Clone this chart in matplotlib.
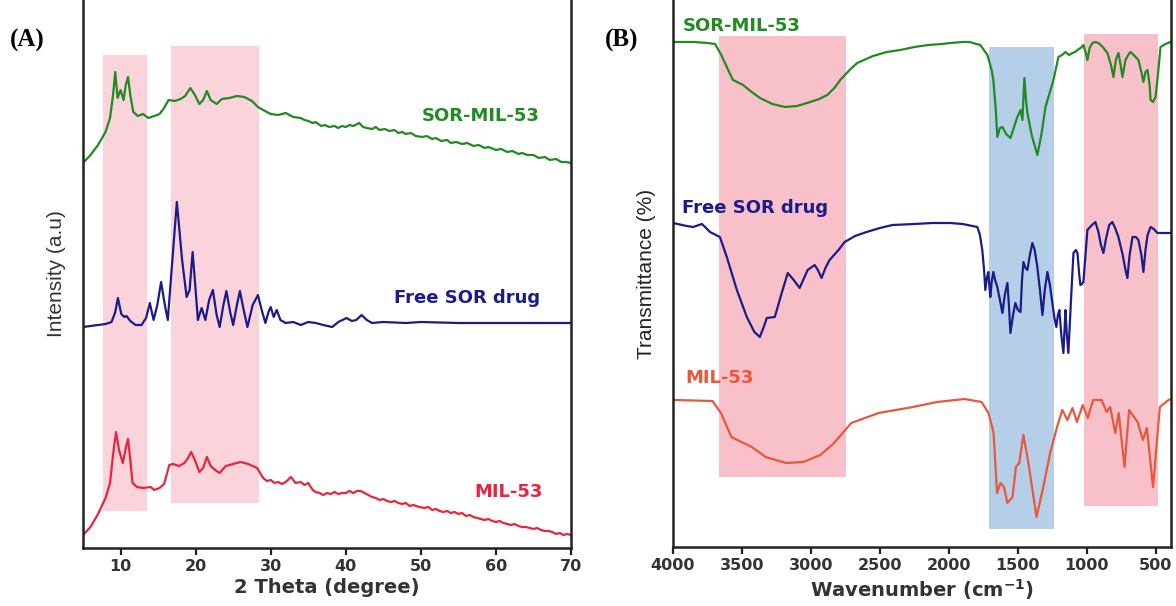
import matplotlib
matplotlib.use("Agg")
import matplotlib.pyplot as plt
from matplotlib import font_manager

# ---------------- Panel A: XRD data (2 theta, intensity a.u.) ----------------
xrd_sor_mil53_x = [5.0, 6.0, 7.0, 8.0, 8.6, 9.0, 9.3, 9.6, 10.0, 10.4, 10.7, 11.0, 11.3, 11.7, 12.3,
                   13.0, 13.7, 14.5, 15.2, 15.8, 16.4, 17.2, 18.0, 18.6, 19.3, 19.9, 20.5, 21.0, 21.5,
                   22.0, 22.8, 23.5, 24.5, 25.5, 26.5, 27.5, 28.3, 29.0,
                   30.0, 31.0, 32.0, 32.5, 33.0, 34.0, 34.5, 35.0, 35.6, 36.0, 36.7, 37.2, 37.8, 38.5,
                   39.0, 39.5, 40.0, 40.5, 41.0, 41.8, 42.3, 42.8, 43.5, 44.0, 44.5, 45.2, 45.8, 46.5,
                   47.0, 47.5, 48.0, 48.7, 49.3, 50.2, 50.8, 51.5, 52.0, 52.7, 53.5, 54.0, 54.7, 55.5,
                   56.2, 57.0, 57.7, 58.5, 59.0, 60.0, 60.7, 61.5, 62.2, 63.0, 63.5, 64.2, 65.0, 65.7,
                   66.5, 67.2, 68.0, 68.7, 69.3, 70.0]
xrd_sor_mil53_y = [385, 393, 403, 416, 430, 453, 476, 450, 458, 448, 463, 471, 453, 436, 432,
                   434, 430, 432, 434, 440, 448, 447, 449, 452, 460, 453, 444, 448, 457,
                   448, 444, 449, 450, 452, 451, 447, 441, 438,
                   434, 433, 435, 433, 431, 430, 428, 427, 425, 426, 422, 423, 421, 422,
                   420, 422, 421, 423, 422, 425, 421, 420, 419, 421, 418, 419, 417, 418,
                   415, 416, 414, 415, 412, 411, 412, 409, 410, 407, 408, 405, 406, 404,
                   405, 402, 403, 400, 401, 398, 399, 396, 397, 394, 395, 393, 393, 390,
                   391, 388, 389, 386, 386, 385]

xrd_free_sor_x = [5.0, 6.0, 7.0, 8.0, 8.8, 9.3, 9.65, 10.1, 10.5, 10.8, 11.3, 12.0, 12.8, 13.4, 13.9,
                  14.4, 14.9, 15.4, 15.9, 16.3, 16.8, 17.5, 18.2, 18.8, 19.2, 19.6, 20.0, 20.3, 20.8,
                  21.3, 21.8, 22.3, 22.8, 23.2, 23.7, 24.1, 24.6, 25.0, 25.5, 25.9, 26.4, 26.9, 27.6,
                  28.3, 28.8, 29.3, 29.7, 30.0, 30.4, 30.8, 31.3, 32.0, 33.0, 34.0, 35.0, 36.0, 37.0,
                  38.2, 39.0, 40.1, 40.8, 41.4, 42.1, 42.8, 43.5, 45.0, 48.0, 50.0, 55.0, 60.0, 65.0, 70.0]
xrd_free_sor_y = [221, 222, 223, 224, 226, 236, 250, 234, 231, 232, 227, 223, 223, 230, 245,
                  228, 243, 266, 243, 228, 278, 346, 288, 251, 258, 296, 258, 228, 240,
                  228, 248, 258, 233, 221, 243, 257, 236, 223, 243, 257, 238, 221, 243,
                  253, 238, 225, 236, 241, 231, 238, 228, 225, 226, 223, 226, 225, 223,
                  221, 226, 230, 227, 228, 233, 228, 225, 226, 225, 226, 225, 225, 225, 225]

xrd_mil53_x = [5.0, 6.0, 7.0, 7.5, 8.0, 8.6, 9.0, 9.4, 9.8, 10.3, 10.7, 11.0, 11.3, 11.6, 12.2,
               13.0, 14.0, 14.5, 15.2, 15.8, 16.5, 17.0, 17.8, 18.5, 19.0, 19.4, 19.9, 20.5, 21.0,
               21.5, 22.0, 22.6, 23.2, 24.0, 25.0, 26.0, 27.0, 27.6, 28.2,
               29.0, 29.5, 30.0, 30.5, 31.0, 31.5, 32.0, 32.7, 33.3, 34.0, 34.5, 35.0, 35.6, 36.0,
               36.5, 37.0, 37.5, 38.0, 38.5, 39.0, 39.5, 40.0, 40.5, 41.0, 41.5, 42.0, 42.5, 43.0,
               43.5, 44.0, 44.5, 45.0, 45.5, 46.0, 46.5, 47.0, 47.5, 48.0, 48.5, 49.0, 49.8, 50.5,
               51.0, 51.5, 52.0, 52.5, 53.0, 53.5, 54.0, 54.5, 55.0, 55.5, 56.0, 56.5, 57.0, 57.5,
               58.0, 58.5, 59.0, 59.5, 60.0, 60.5, 61.0, 61.5, 62.0, 62.5, 63.0, 63.5, 64.0, 64.5,
               65.0, 65.5, 66.0, 66.5, 67.0, 67.5, 68.0, 68.5, 69.0, 69.5, 70.0]
xrd_mil53_y = [13, 21, 34, 42, 50, 65, 93, 116, 98, 85, 100, 109, 88, 65, 61,
               60, 61, 58, 60, 64, 83, 84, 82, 85, 90, 96, 88, 76, 80,
               91, 82, 78, 75, 82, 84, 86, 84, 82, 80,
               70, 67, 68, 65, 66, 64, 66, 71, 65, 66, 63, 65, 58, 56,
               55, 53, 55, 54, 56, 54, 55, 55, 57, 55, 57, 57, 55, 53,
               51, 50, 48, 49, 47, 46, 47, 45, 44, 45, 42, 43, 41, 40,
               41, 38, 39, 37, 36, 37, 35, 36, 34, 35, 32, 33, 31, 30,
               29, 28, 29, 27, 26, 27, 25, 24, 23, 24, 22, 21, 21, 20,
               19, 20, 18, 17, 17, 16, 14, 15, 13, 14, 13]

xrd_xticks = [10, 20, 30, 40, 50, 60, 70]
xrd_bands = [(7.7, 13.5, 37, 493), (16.7, 28.5, 45, 502)]  # (x0, x1, y0, y1)

# ---------------- Panel B: FTIR data (wavenumber cm-1, transmittance a.u.) ----------------
ir_sor_mil53_x = [4000, 3850, 3750, 3695, 3650, 3600, 3565, 3492, 3430, 3369, 3280, 3187, 3100, 3006,
                  2940, 2882, 2830, 2788, 2720, 2665, 2550, 2450, 2353, 2250, 2150, 2050, 1990, 1900,
                  1850, 1800, 1772, 1721, 1690, 1678, 1660, 1649, 1630, 1612, 1585, 1554, 1530, 1504,
                  1481, 1467, 1453, 1441, 1431, 1400, 1359, 1330, 1300, 1270, 1242, 1206, 1180, 1155,
                  1130, 1104, 1085, 1068, 1045, 1025, 1010, 996, 980, 960, 940, 916, 885, 851, 825,
                  807, 790, 771, 755, 742, 720, 700, 684, 660, 626, 605, 590, 575, 560, 545, 538,
                  520, 502, 485, 466, 430, 393]
ir_sor_mil53_y = [505, 505, 504, 503, 492, 477, 467, 462, 455, 449, 443, 440, 441, 445,
                  448, 452, 459, 467, 477, 484, 491, 495, 497, 500, 502, 503, 504, 505,
                  505, 503, 502, 492, 477, 467, 437, 410, 419, 420, 413, 409, 419, 430,
                  437, 427, 469, 447, 434, 412, 392, 412, 440, 454, 467, 490, 492, 495,
                  492, 494, 495, 497, 499, 502, 495, 487, 499, 504, 505, 504, 500, 494, 482,
                  470, 487, 494, 482, 470, 487, 492, 495, 492, 487, 475, 465, 475, 477, 462, 447,
                  445, 450, 472, 500, 503, 505]

ir_free_sor_x = [4000, 3900, 3855, 3790, 3760, 3732, 3660, 3610, 3537, 3465, 3410, 3371, 3345, 3320,
                 3262, 3212, 3168, 3125, 3082, 3050, 3024, 2973, 2950, 2923, 2895, 2865, 2800, 2756,
                 2680, 2597, 2500, 2409, 2250, 2120, 1990, 1900, 1794, 1775, 1758, 1745, 1736, 1725,
                 1714, 1707, 1700, 1690, 1678, 1665, 1649, 1630, 1612, 1595, 1576, 1565, 1554, 1535,
                 1518, 1500, 1481, 1470, 1460, 1445, 1431, 1413, 1395, 1378, 1359, 1340, 1322, 1305,
                 1286, 1268, 1250, 1235, 1221, 1210, 1199, 1185, 1170, 1162, 1155, 1145, 1134, 1115,
                 1097, 1080, 1068, 1055, 1047, 1035, 1025, 1010, 996, 970, 938, 916, 898, 880, 860,
                 838, 815, 795, 771, 740, 720, 706, 690, 669, 645, 626, 605, 590, 575, 560, 538,
                 515, 488, 450, 393]
ir_free_sor_y = [324, 321, 320, 323, 319, 315, 310, 290, 257, 230, 215, 210, 219, 229,
                 230, 254, 274, 267, 259, 269, 277, 282, 277, 269, 279, 287, 297, 305,
                 311, 315, 319, 322, 323, 324, 324, 323, 320, 312, 297, 277, 257, 269,
                 275, 262, 250, 265, 275, 267, 260, 247, 234, 252, 264, 242, 214, 232,
                 244, 237, 235, 267, 285, 279, 277, 292, 304, 297, 280, 257, 232, 257,
                 275, 262, 244, 229, 220, 232, 237, 212, 194, 217, 237, 212, 194, 247,
                 294, 297, 294, 272, 262, 263, 265, 292, 317, 321, 325, 315, 302, 294, 309,
                 322, 325, 319, 310, 292, 277, 269, 292, 310, 310, 307, 292, 275, 297, 312, 320,
                 318, 314, 314, 314]

ir_mil53_x = [4000, 3714, 3652, 3577, 3503, 3428, 3329, 3180, 3056, 2931, 2832, 2708, 2509, 2260,
              2086, 1887, 1763, 1713, 1676, 1651, 1626, 1601, 1576, 1539, 1514, 1490, 1460, 1427,
              1365, 1316, 1266, 1216, 1178, 1141, 1104, 1072, 1030, 993, 955, 893, 856, 831, 794,
              769, 727, 694, 632, 594, 565, 520, 471, 408, 390]
ir_mil53_y = [147, 146, 134, 110, 105, 100, 90, 84, 85, 92, 104, 124, 134, 140,
              145, 148, 145, 134, 114, 54, 64, 60, 44, 50, 80, 84, 112, 87,
              30, 60, 94, 120, 137, 127, 139, 125, 142, 129, 147, 147, 135, 140, 114,
              134, 80, 137, 125, 107, 119, 60, 140, 147, 148]

ir_xticks = [4000, 3500, 3000, 2500, 2000, 1500, 1000, 500]
ir_bands = [(3667, 2749, 70, 511, '#f8c1c9'), (1708, 1238, 18, 500, '#b6cfe9'),
            (1021, 486, 41, 513, '#f8c1c9')]

GREEN = '#218a21'
BLUE = '#1b1b8a'
RED_A = '#e8253c'
RED_B = '#e8583c'
TICKC = '#333333'

names = {f.name for f in font_manager.fontManager.ttflist}
narrow = 'Liberation Sans Narrow' if 'Liberation Sans Narrow' in names else 'Liberation Sans'

fig = plt.figure(figsize=(11.76, 6.06), dpi=100)
fig.patch.set_facecolor('white')

def style_axes(ax):
    ax.spines['top'].set_visible(False)
    for s in ['left', 'right', 'bottom']:
        ax.spines[s].set_linewidth(1.8)
        ax.spines[s].set_color('#222222')
    ax.set_yticks([])
    ax.tick_params(axis='x', direction='out', length=5, width=1.6, color='#222222',
                   labelsize=11.5, labelcolor=TICKC, pad=3)
    for lab in ax.get_xticklabels():
        lab.set_fontweight('bold')

# ---- Panel A ----
axA = fig.add_axes([83/1176, 58/606, 488/1176, 548/606])
for x0, x1, y0, y1 in xrd_bands:
    axA.add_patch(plt.Rectangle((x0, y0), x1 - x0, y1 - y0, facecolor='#fad3db',
                                edgecolor='none', zorder=0))
axA.plot(xrd_sor_mil53_x, xrd_sor_mil53_y, color=GREEN, lw=1.6)
axA.plot(xrd_free_sor_x, xrd_free_sor_y, color=BLUE, lw=1.6)
axA.plot(xrd_mil53_x, xrd_mil53_y, color=RED_A, lw=1.6)
axA.set_xlim(5, 70)
axA.set_ylim(0, 548)
axA.set_xticks(xrd_xticks)
style_axes(axA)
axA.set_xlabel('2 Theta (degree)', fontsize=14, fontweight='bold', color=TICKC, labelpad=3)
axA.set_ylabel('Intensity (a.u)', fontsize=15, family=narrow, color='#333333', labelpad=12)
axA.text(65.8, 432, 'SOR-MIL-53', color=GREEN, fontsize=13, fontweight='bold', ha='right', va='center')
axA.text(65.9, 250, 'Free SOR drug', color=BLUE, fontsize=13, fontweight='bold', ha='right', va='center')
axA.text(66.2, 56, 'MIL-53', color=RED_A, fontsize=13, fontweight='bold', ha='right', va='center')

# ---- Panel B ----
axB = fig.add_axes([673/1176, 59/606, 498/1176, 547/606])
for x0, x1, y0, y1, c in ir_bands:
    axB.add_patch(plt.Rectangle((x1, y0), x0 - x1, y1 - y0, facecolor=c,
                                edgecolor='none', zorder=0))
axB.plot(ir_sor_mil53_x, ir_sor_mil53_y, color=GREEN, lw=1.6)
axB.plot(ir_free_sor_x, ir_free_sor_y, color=BLUE, lw=1.6)
axB.plot(ir_mil53_x, ir_mil53_y, color=RED_B, lw=1.6)
axB.set_xlim(4000, 390)
axB.set_ylim(0, 547)
axB.set_xticks(ir_xticks)
style_axes(axB)
axB.set_xlabel(r'Wavenumber (cm$^{\mathbf{-1}}$)', fontsize=14, fontweight='bold', color=TICKC, labelpad=3)
axB.set_ylabel('Transmittance (%)', fontsize=15, family=narrow, color='#222222', labelpad=12)
axB.text(3928, 521, 'SOR-MIL-53', color=GREEN, fontsize=13, fontweight='bold', ha='left', va='center')
axB.text(3935, 339, 'Free SOR drug', color=BLUE, fontsize=13, fontweight='bold', ha='left', va='center')
axB.text(3913, 169, 'MIL-53', color=RED_B, fontsize=13, fontweight='bold', ha='left', va='center')

# panel letters
fig.text(10/1176, 1 - 40/606, '(A)', fontsize=18, fontweight='bold', family='Liberation Serif',
         ha='left', va='center')
fig.text(605/1176, 1 - 40/606, '(B)', fontsize=18, fontweight='bold', family='Liberation Serif',
         ha='left', va='center')

fig.savefig('out.png', dpi=100, facecolor='white')
